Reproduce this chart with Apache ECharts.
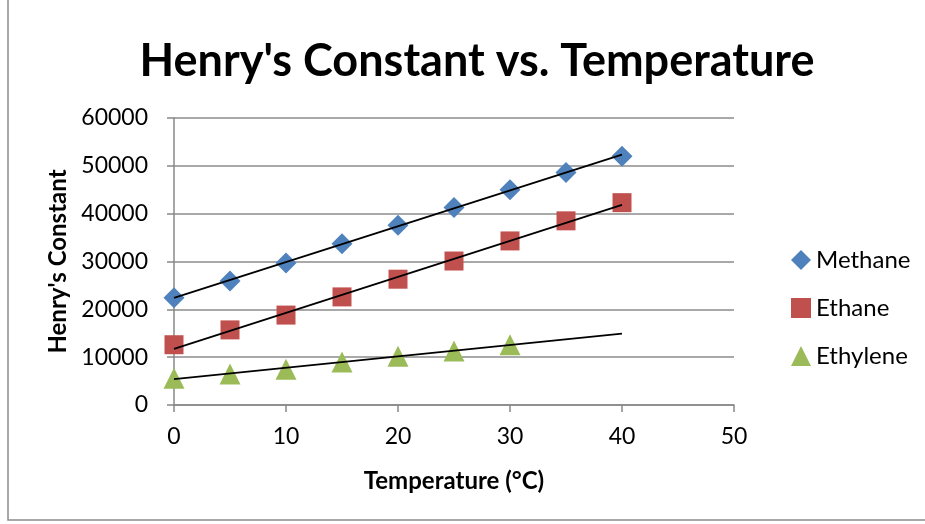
<!DOCTYPE html>
<html><head><meta charset="utf-8">
<script src="https://cdn.jsdelivr.net/npm/echarts@6/dist/echarts.min.js"></script>
<style>html,body{margin:0;padding:0;background:#fff}#c{width:925px;height:524px}</style>
</head><body><div id="c"></div>
<script>
var temps = [0, 5, 10, 15, 20, 25, 30, 35, 40];
var methane = [22400, 25900, 29700, 33700, 37600, 41300, 45000, 48600, 52000];
var ethane = [12600, 15700, 18800, 22600, 26300, 30100, 34300, 38500, 42300];
var ethyleneTemps = [0, 5, 10, 15, 20, 25, 30];
var ethylene = [5600, 6500, 7500, 9000, 10200, 11300, 12600];
var yTicks = [0, 10000, 20000, 30000, 40000, 50000, 60000];
var xTicks = [0, 10, 20, 30, 40, 50];

function fit(xs, ys, x0, x1) {
  var n = xs.length, sx = 0, sy = 0, sxx = 0, sxy = 0;
  for (var i = 0; i < n; i++) { sx += xs[i]; sy += ys[i]; sxx += xs[i]*xs[i]; sxy += xs[i]*ys[i]; }
  var b = (n*sxy - sx*sy) / (n*sxx - sx*sx), a = (sy - b*sx) / n;
  return [[x0, a + b*x0], [x1, a + b*x1]];
}
function pairs(xs, ys) { return xs.map(function (x, i) { return [x, ys[i]]; }); }

var font = 'Lato, "Open Sans", sans-serif';
var chart = echarts.init(document.getElementById('c'));
var trendStyle = { color: '#000', width: 1.8 };
chart.setOption({
  animation: false,
  title: { text: "Henry's Constant vs. Temperature", left: 472, top: 34, textAlign: 'center',
    textStyle: { fontFamily: font, fontSize: 45, fontWeight: 'bold', color: '#000' } },
  graphic: [{ type: 'rect', shape: { x: 8, y: -2, width: 940, height: 522 }, silent: true,
    style: { fill: 'none', stroke: '#8c8c8c', lineWidth: 1.5 } }],
  legend: { orient: 'vertical', left: 786, top: 243, itemGap: 24, itemWidth: 20, itemHeight: 20,
    textStyle: { fontFamily: font, fontSize: 24, color: '#000' },
    data: [{ name: 'Methane', icon: 'diamond' }, { name: 'Ethane', icon: 'rect' }, { name: 'Ethylene', icon: 'triangle' }] },
  grid: { left: 174, right: 191, top: 118, bottom: 119 },
  xAxis: { type: 'value', min: 0, max: 50, interval: 10,
    name: 'Temperature (°C)', nameLocation: 'middle', nameGap: 64,
    nameTextStyle: { fontFamily: font, fontSize: 24, fontWeight: 'bold', color: '#000' },
    axisLine: { lineStyle: { color: '#888', width: 1.5 } },
    axisTick: { show: true, length: 7, lineStyle: { color: '#888', width: 1.5 } },
    axisLabel: { fontFamily: font, fontSize: 23, color: '#000', margin: 20, formatter: function (v) { return String(v); } },
    splitLine: { show: false } },
  yAxis: { type: 'value', min: 0, max: 60000, interval: 10000,
    name: "Henry's Constant", nameLocation: 'middle', nameGap: 103, nameRotate: 90,
    nameTextStyle: { fontFamily: font, fontSize: 24, fontWeight: 'bold', color: '#000' },
    axisLine: { show: true, lineStyle: { color: '#888', width: 1.5 } },
    axisTick: { show: true, length: 7, lineStyle: { color: '#888', width: 1.5 } },
    axisLabel: { fontFamily: font, fontSize: 23, color: '#000', margin: 26, formatter: function (v) { return String(v); } },
    splitLine: { lineStyle: { color: '#8c8c8c', width: 1.5 } } },
  series: [
    { name: 'Methane', type: 'scatter', symbol: 'diamond', symbolSize: 21, data: pairs(temps, methane),
      itemStyle: { color: '#4F81BD', opacity: 1 }, z: 3 },
    { name: 'Ethane', type: 'scatter', symbol: 'rect', symbolSize: 19, data: pairs(temps, ethane),
      itemStyle: { color: '#C0504D', opacity: 1 }, z: 3 },
    { name: 'Ethylene', type: 'scatter', symbol: 'triangle', symbolSize: 21, data: pairs(ethyleneTemps, ethylene),
      itemStyle: { color: '#9BBB59', opacity: 1 }, z: 3 },
    { type: 'line', data: fit(temps, methane, 0, 40), symbol: 'none', lineStyle: trendStyle, z: 4, silent: true },
    { type: 'line', data: fit(temps, ethane, 0, 40), symbol: 'none', lineStyle: trendStyle, z: 4, silent: true },
    { type: 'line', data: fit(ethyleneTemps, ethylene, 0, 40), symbol: 'none', lineStyle: trendStyle, z: 4, silent: true }
  ]
});
</script></body></html>
